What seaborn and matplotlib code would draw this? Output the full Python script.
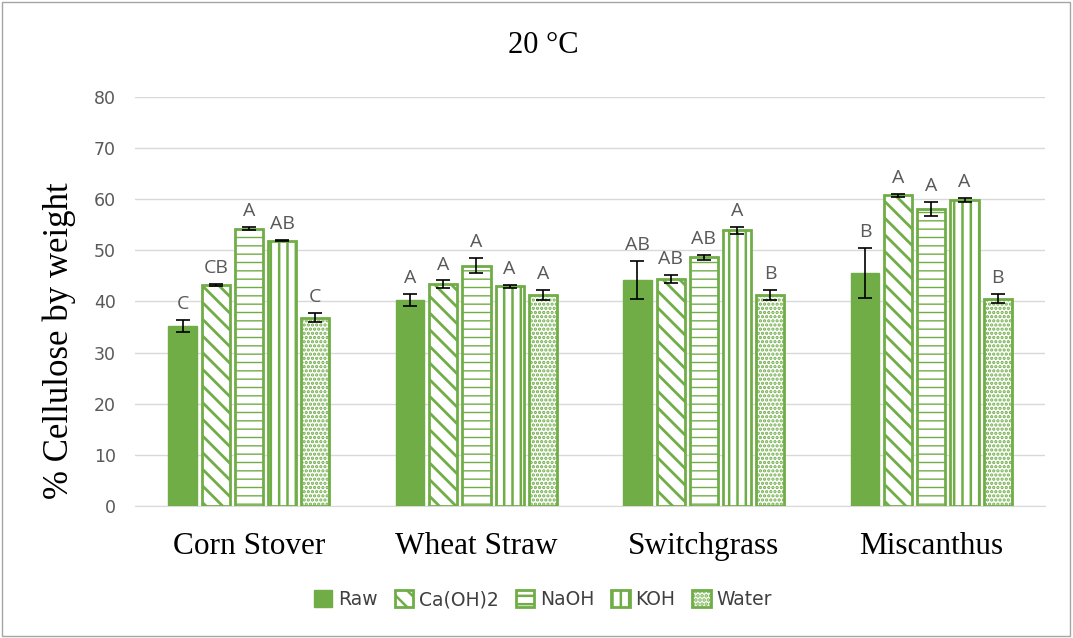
import numpy as np
import pandas as pd
import matplotlib
matplotlib.use("Agg")
import matplotlib.pyplot as plt
import seaborn as sns
from matplotlib.patches import Rectangle, Patch

feedstocks = ["Corn Stover", "Wheat Straw", "Switchgrass", "Miscanthus"]
treatments = ["Raw", "Ca(OH)2", "NaOH", "KOH", "Water"]

raw_vals   = [35.2, 40.3, 44.2, 45.6]
caoh_vals  = [43.2, 43.4, 44.4, 60.8]
naoh_vals  = [54.2, 47.0, 48.6, 58.1]
koh_vals   = [51.9, 43.0, 53.9, 59.9]
water_vals = [36.8, 41.2, 41.3, 40.5]

raw_err   = [1.2, 1.1, 3.7, 4.9]
caoh_err  = [0.2, 0.7, 0.7, 0.3]
naoh_err  = [0.3, 1.5, 0.5, 1.4]
koh_err   = [0.1, 0.3, 0.7, 0.4]
water_err = [0.9, 1.0, 1.0, 0.9]

raw_let   = ["C", "A", "AB", "B"]
caoh_let  = ["CB", "A", "AB", "A"]
naoh_let  = ["A", "A", "AB", "A"]
koh_let   = ["AB", "A", "A", "A"]
water_let = ["C", "A", "B", "B"]

yticks = [0, 10, 20, 30, 40, 50, 60, 70, 80]

vals = [raw_vals, caoh_vals, naoh_vals, koh_vals, water_vals]
errs = [raw_err, caoh_err, naoh_err, koh_err, water_err]
lets = [raw_let, caoh_let, naoh_let, koh_let, water_let]

rows = []
for t, v in zip(treatments, vals):
    for f, y in zip(feedstocks, v):
        rows.append({"Feedstock": f, "Treatment": t, "Value": y})
df = pd.DataFrame(rows)

green = "#70AD47"
hatches = [None, "\\\\", "--", "||", "...."]
hatch_lw = [1.0, 2.0, 1.0, 1.8, 1.6]
plt.rcParams["hatch.linewidth"] = 1.8


def set_hlw(p, lw):
    if hasattr(p, "set_hatch_linewidth"):
        p.set_hatch_linewidth(lw)
    else:
        p._hatch_linewidth = lw


fig = plt.figure(figsize=(10.73, 6.38), dpi=100)
ax = fig.add_axes([0.126, 0.207, 0.848, 0.641])
sns.barplot(data=df, x="Feedstock", y="Value", hue="Treatment",
            order=feedstocks, hue_order=treatments,
            palette=[green] * 5, width=0.73, gap=0.15, errorbar=None,
            legend=False, ax=ax, zorder=3)

bar_conts = list(ax.containers)
for i, cont in enumerate(bar_conts):
    for j, bar in enumerate(cont):
        if i == 0:
            bar.set_facecolor(green)
            bar.set_edgecolor(green)
        else:
            bar.set_facecolor("white")
            bar.set_edgecolor(green)
            bar.set_hatch(hatches[i])
            set_hlw(bar, hatch_lw[i])
            bar.set_linewidth(2)
        cx = bar.get_x() + bar.get_width() / 2
        h = bar.get_height()
        e = errs[i][j]
        ax.errorbar(cx, h, yerr=e, fmt="none", ecolor="black",
                    elinewidth=1.2, capsize=5, capthick=1.2, zorder=4)
        ax.annotate(lets[i][j], (cx, h + e), xytext=(0, 5),
                    textcoords="offset points", ha="center", va="bottom",
                    fontsize=14, color="#595959", family="Open Sans")

ax.set_ylim(0, 80)
ax.set_yticks(yticks)
ax.set_yticklabels([str(t) for t in yticks], fontsize=12.5, color="#595959")
ax.set_xlim(-0.5, 3.5)
ax.grid(axis="y", color="#D9D9D9", linewidth=1, zorder=0)
ax.set_axisbelow(True)
for s in ["top", "right", "left"]:
    ax.spines[s].set_visible(False)
ax.spines["bottom"].set_color("#D9D9D9")
ax.tick_params(axis="both", length=0)
ax.tick_params(axis="y", pad=14)
ax.set_xticks(range(4))
ax.set_xticklabels(feedstocks, fontsize=22.5, family="Liberation Serif", color="black")
ax.tick_params(axis="x", pad=19)
ax.set_xlabel("")
ax.set_ylabel("% Cellulose by weight", fontsize=25, family="Liberation Serif",
              va="center", ha="center")
ax.yaxis.set_label_coords(-0.0835, 0.403)

fig.text(0.506, 0.928, "20 °C", ha="center", va="center", fontsize=22, family="Liberation Serif")

handles = []
for i, t in enumerate(treatments):
    if i == 0:
        handles.append(Patch(facecolor=green, edgecolor=green, label=t))
    else:
        handles.append(Patch(facecolor="white", edgecolor=green, hatch=hatches[i], linewidth=2, label=t))
fig.legend(handles=handles, loc="center", bbox_to_anchor=(0.506, 0.06), ncol=5,
           frameon=False, fontsize=13.5, handlelength=1.0, handleheight=1.0,
           handletextpad=0.3, columnspacing=0.9, labelcolor="#404040")

fig.patches.append(Rectangle((0.002, 0.003), 0.995, 0.994, transform=fig.transFigure,
                             fill=False, edgecolor="#A6A6A6", linewidth=1))

fig.savefig("out.png", dpi=100, facecolor="white")
